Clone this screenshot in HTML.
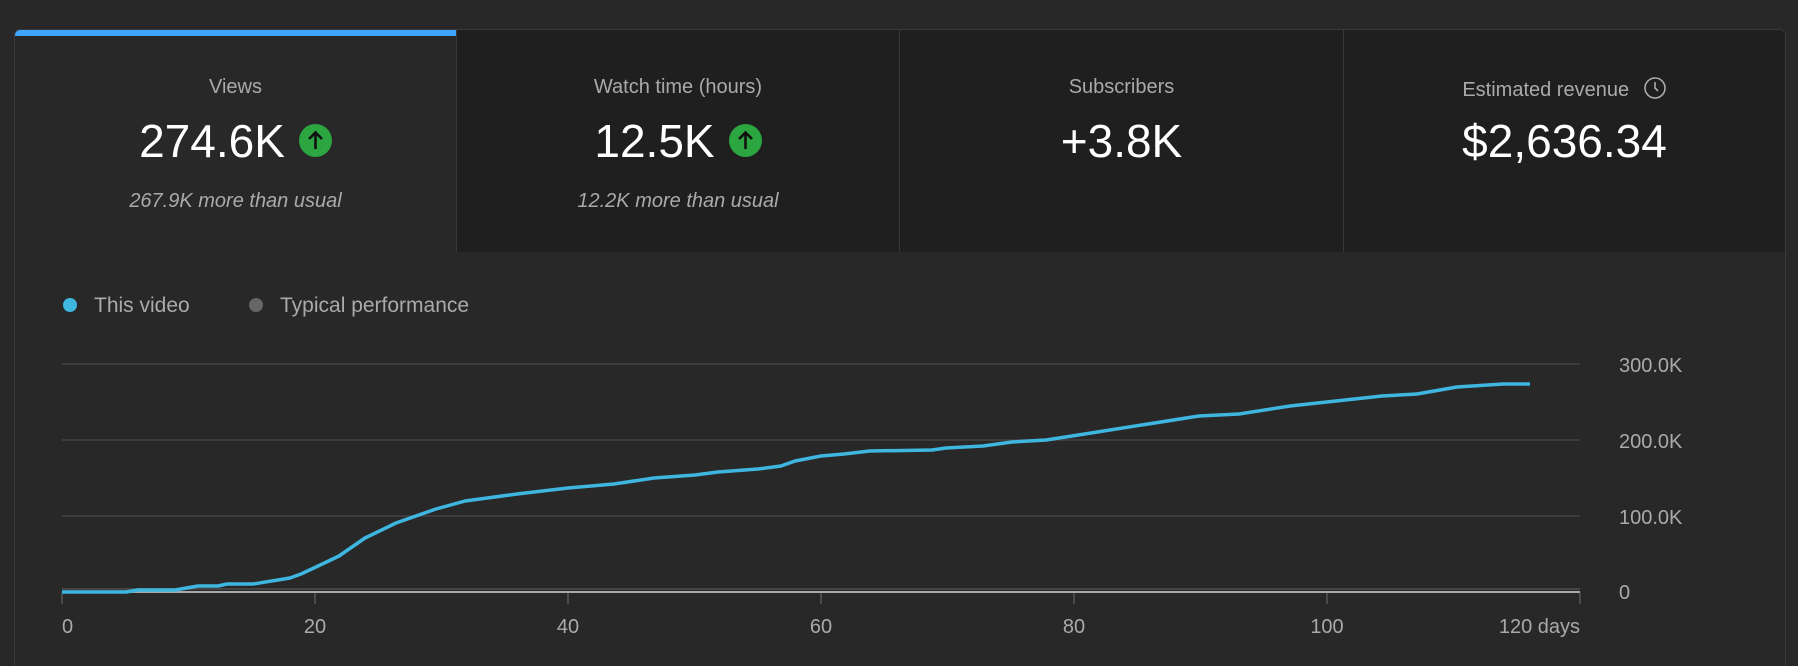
<!DOCTYPE html>
<html><head><meta charset="utf-8"><style>
html,body{margin:0;padding:0;background:#282828;width:1798px;height:666px;overflow:hidden;font-family:"Liberation Sans",sans-serif}
#wrap{position:relative;width:1798px;height:666px;overflow:hidden}
.panel{position:absolute;left:14px;top:29px;width:1770px;height:660px;border:1px solid #3a3a3a;border-radius:6px;background:#282828;overflow:hidden}
.tab{position:absolute;top:0;height:222px;width:442px;text-align:center;background:#1f1f1f;border-left:1px solid #3a3a3a;box-sizing:border-box}
.t{position:absolute;left:0;right:0;top:46px;font-size:20px;color:#aaa}
.v{position:absolute;left:0;right:0;top:83px;font-size:46px;color:#fff;line-height:56px}
.s{position:absolute;left:0;right:0;top:160px;font-size:20px;color:#aaa;font-style:italic}
.up{display:inline-block;width:33px;height:33px;border-radius:50%;background:#2ba640;vertical-align:middle;margin-left:14px;position:relative;top:-4px}
.up svg{display:block}
</style></head><body><div id="wrap">
<div class="panel">
<div class="tab" style="left:0;background:#282828;border-left:none;width:441px"><div style="position:absolute;left:0;top:0;width:441px;height:6px;background:#3ea6ff"></div>
<div class="t">Views</div><div class="v">274.6K<span class="up"><svg width="33" height="33"><path d="M16.5 25V9M10 15l6.5-6.5L23 15" stroke="#111" stroke-width="2.6" fill="none"/></svg></span></div><div class="s">267.9K more than usual</div></div>
<div class="tab" style="left:441px;width:443px"><div class="t">Watch time (hours)</div><div class="v">12.5K<span class="up"><svg width="33" height="33"><path d="M16.5 25V9M10 15l6.5-6.5L23 15" stroke="#111" stroke-width="2.6" fill="none"/></svg></span></div><div class="s">12.2K more than usual</div></div>
<div class="tab" style="left:884px;width:444px"><div class="t">Subscribers</div><div class="v">+3.8K</div></div>
<div class="tab" style="left:1328px;width:442px"><div class="t">Estimated revenue <svg width="24" height="24" style="vertical-align:-4px;margin-left:8px"><circle cx="12" cy="12" r="10" stroke="#aaa" stroke-width="1.6" fill="none"/><path d="M12 6v6l3 3" stroke="#aaa" stroke-width="1.6" fill="none"/></svg></div><div class="v">$2,636.34</div></div>
</div>
<svg width="1798" height="666" style="position:absolute;left:0;top:0">
<g font-family="Liberation Sans, sans-serif" font-size="21" fill="#aaa">
<circle cx="70" cy="305" r="7" fill="#3eb6e0"/><text x="94" y="312">This video</text>
<circle cx="256" cy="305" r="7" fill="#666"/><text x="280" y="312">Typical performance</text>
</g>
<g stroke="#3d3d3d" stroke-width="2"><line x1="62" y1="364" x2="1580" y2="364"/><line x1="62" y1="440" x2="1580" y2="440"/><line x1="62" y1="516" x2="1580" y2="516"/></g>
<line x1="62" y1="589" x2="1580" y2="589" stroke="#444" stroke-width="2"/>
<line x1="62" y1="592" x2="1580" y2="592" stroke="#aaa" stroke-width="2"/>
<g stroke="#555" stroke-width="1.5"><line x1="62" y1="593" x2="62" y2="604"/><line x1="315" y1="593" x2="315" y2="604"/><line x1="568" y1="593" x2="568" y2="604"/><line x1="821" y1="593" x2="821" y2="604"/><line x1="1074" y1="593" x2="1074" y2="604"/><line x1="1327" y1="593" x2="1327" y2="604"/><line x1="1580" y1="593" x2="1580" y2="604"/></g>
<polyline fill="none" stroke="#3eb6e0" stroke-width="3.5" stroke-linejoin="round" points="62,592 126,592 138,590 175,590 198,586 218,586 227,584 253,584 290,578 301,574 316,567 339,556 365,538 396,523 436,509 465,501 517,494 568,488 614,484 654,478 695,475 718,472 758,469 781,466 795,461 821,456 844,454 870,451 932,450 946,448 983,446 1012,442 1046,440 1072,436 1199,416 1239,414 1290,406 1336,401 1382,396 1417,394 1457,387 1503,384 1530,384"/>
<g font-family="Liberation Sans, sans-serif" font-size="20" fill="#aaa">
<text x="62" y="633">0</text><text x="315" y="633" text-anchor="middle">20</text><text x="568" y="633" text-anchor="middle">40</text><text x="821" y="633" text-anchor="middle">60</text><text x="1074" y="633" text-anchor="middle">80</text><text x="1327" y="633" text-anchor="middle">100</text><text x="1580" y="633" text-anchor="end">120 days</text>
<text x="1619" y="372">300.0K</text><text x="1619" y="448">200.0K</text><text x="1619" y="524">100.0K</text><text x="1619" y="599">0</text>
</g>
</svg>
</div></body></html>
